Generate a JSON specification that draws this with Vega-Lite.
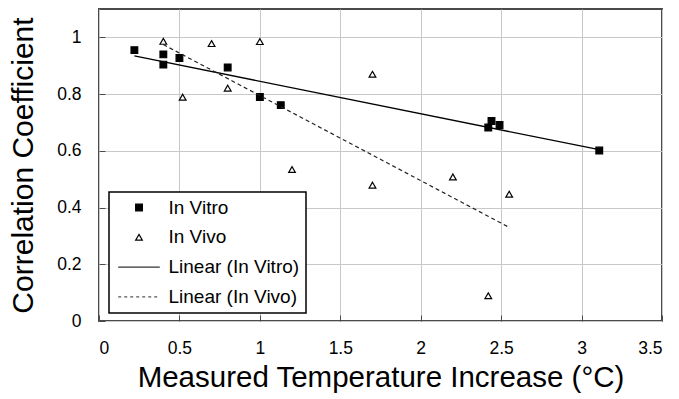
{
  "$schema": "https://vega.github.io/schema/vega-lite/v6.json",
  "width": 563,
  "height": 312,
  "autosize": {"type": "none"},
  "padding": {"left": 99, "top": 9, "right": 17, "bottom": 78},
  "background": "white",
  "config": {
    "font": "Liberation Sans",
    "view": {"stroke": "#4a4a4a", "strokeWidth": 2},
    "axis": {
      "grid": true,
      "gridColor": "#c8c8c8",
      "gridWidth": 1,
      "domain": false,
      "tickColor": "#4a4a4a",
      "tickSize": -6,
      "labelColor": "#000000",
      "titleColor": "#000000",
      "labelFont": "Liberation Sans",
      "titleFont": "Liberation Sans",
      "titleFontWeight": "normal",
      "labelFontSize": 17.5
    },
    "legend": {
      "orient": "none",
      "legendX": 10,
      "legendY": 183,
      "labelFont": "Liberation Sans",
      "labelFontSize": 19,
      "labelColor": "#000000",
      "labelOffset": 20,
      "symbolOffset": 14.5,
      "symbolSize": 45,
      "strokeColor": "#000000",
      "strokeWidth": 1.5,
      "fillColor": "white",
      "padding": 6,
      "rowPadding": 9.8,
      "symbolStrokeColor": "#000000",
      "symbolStrokeWidth": 1.2
    }
  },
  "data": {
    "values": [
      {"group": "In Vitro", "temp": 0.22, "corr": 0.955},
      {"group": "In Vitro", "temp": 0.40, "corr": 0.940},
      {"group": "In Vitro", "temp": 0.40, "corr": 0.904},
      {"group": "In Vitro", "temp": 0.50, "corr": 0.927},
      {"group": "In Vitro", "temp": 0.80, "corr": 0.894},
      {"group": "In Vitro", "temp": 1.00, "corr": 0.790},
      {"group": "In Vitro", "temp": 1.13, "corr": 0.761},
      {"group": "In Vitro", "temp": 2.42, "corr": 0.682},
      {"group": "In Vitro", "temp": 2.44, "corr": 0.705},
      {"group": "In Vitro", "temp": 2.49, "corr": 0.691},
      {"group": "In Vitro", "temp": 3.11, "corr": 0.601},
      {"group": "In Vivo", "temp": 0.40, "corr": 0.986},
      {"group": "In Vivo", "temp": 0.52, "corr": 0.789},
      {"group": "In Vivo", "temp": 0.70, "corr": 0.978},
      {"group": "In Vivo", "temp": 0.80, "corr": 0.821},
      {"group": "In Vivo", "temp": 1.00, "corr": 0.985},
      {"group": "In Vivo", "temp": 1.20, "corr": 0.534},
      {"group": "In Vivo", "temp": 1.70, "corr": 0.870},
      {"group": "In Vivo", "temp": 1.70, "corr": 0.479},
      {"group": "In Vivo", "temp": 2.20, "corr": 0.508},
      {"group": "In Vivo", "temp": 2.55, "corr": 0.447},
      {"group": "In Vivo", "temp": 2.42, "corr": 0.089}
    ]
  },
  "encoding": {
    "x": {
      "field": "temp",
      "type": "quantitative",
      "scale": {"domain": [0, 3.5], "nice": false, "zero": false},
      "axis": {"values": [0, 0.5, 1, 1.5, 2, 2.5, 3, 3.5], "format": "~g", "labelPadding": 24, "title": "Measured Temperature Increase (°C)", "titleFontSize": 29.5, "titlePadding": 7}
    },
    "y": {
      "field": "corr",
      "type": "quantitative",
      "scale": {"domain": [0, 1.1], "nice": false, "zero": false},
      "axis": {"values": [0, 0.2, 0.4, 0.6, 0.8, 1], "format": "~g", "labelPadding": 24, "title": "Correlation Coefficient", "titleFontSize": 30, "titlePadding": 18}
    }
  },
  "layer": [
    {
      "mark": {"type": "point", "size": 45, "strokeWidth": 1.2, "opacity": 1},
      "encoding": {
        "shape": {
          "field": "group", "type": "nominal",
          "scale": {"domain": ["In Vitro", "In Vivo", "Linear (In Vitro)", "Linear (In Vivo)"], "range": ["square", "triangle-up", "M-6.2,0H6.2", "M-6.2,0H6.2"]},
          "legend": {"title": null}
        },
        "fill": {
          "field": "group", "type": "nominal",
          "scale": {"domain": ["In Vitro", "In Vivo", "Linear (In Vitro)", "Linear (In Vivo)"], "range": ["#000000", "#ffffff", "#000000", "#000000"]},
          "legend": {"title": null}
        },
        "stroke": {
          "field": "group", "type": "nominal",
          "scale": {"domain": ["In Vitro", "In Vivo", "Linear (In Vitro)", "Linear (In Vivo)"], "range": ["#000000", "#000000", "#333333", "#555555"]},
          "legend": {"title": null}
        },
        "strokeDash": {
          "field": "group", "type": "nominal",
          "scale": {"domain": ["In Vitro", "In Vivo", "Linear (In Vitro)", "Linear (In Vivo)"], "range": [[1, 0], [1, 0], [1, 0], [3, 3]]},
          "legend": {"title": null}
        }
      }
    },
    {
      "transform": [{"filter": "datum.group === 'In Vitro'"}, {"regression": "corr", "on": "temp"}],
      "mark": {"type": "line", "color": "#000000", "strokeWidth": 1.3}
    },
    {
      "transform": [{"filter": "datum.group === 'In Vivo'"}, {"regression": "corr", "on": "temp"}],
      "mark": {"type": "line", "color": "#222222", "strokeWidth": 1.2, "strokeDash": [4, 3]}
    },
    {
      "data": {"values": [{"note": "R² = 0.93"}]},
      "mark": {"type": "text", "align": "left", "baseline": "middle", "fontSize": 21.5, "font": "Liberation Sans", "color": "#000000"},
      "encoding": {"x": {"datum": 2.78}, "y": {"datum": 0.704}, "text": {"field": "note"}}
    },
    {
      "data": {"values": [{"note": "R² = 0.64"}]},
      "mark": {"type": "text", "align": "left", "baseline": "middle", "fontSize": 21.5, "font": "Liberation Sans", "color": "#000000"},
      "encoding": {"x": {"datum": 2.137}, "y": {"datum": 0.275}, "text": {"field": "note"}}
    }
  ]
}
